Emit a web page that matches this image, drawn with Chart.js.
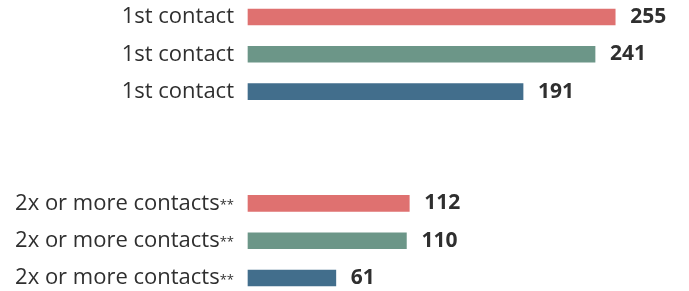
<!DOCTYPE html>
<html>
<head>
<meta charset="utf-8">
<script src="https://cdn.jsdelivr.net/npm/chart.js@4/dist/chart.umd.min.js"></script>
<style>
  html, body { margin: 0; padding: 0; background: #fff; }
  #wrap { width: 689px; height: 291px; position: relative; }
</style>
</head>
<body>
<div id="wrap"><canvas id="barchart"></canvas></div>
<script>
// Kategorien (zwei leere Zeilen als Abstand zwischen den Gruppen)
const categories = ['1st contact', '1st contact', '1st contact', '', '', '2x or more contacts', '2x or more contacts', '2x or more contacts'];
const footnotes = ['', '', '', '', '', '**', '**', '**'];
const values = [255, 241, 191, null, null, 112, 110, 61];
const barColors = ['#df7170', '#6c9688', '#426e8c', '#fff', '#fff', '#df7170', '#6c9688', '#426e8c'];

const textColor = '#2f2f2f';
const fontFamily = '"Open Sans", sans-serif';

// Beschriftungen links und Werte rechts selbst zeichnen
const labelPlugin = {
  id: 'labelPlugin',
  afterDatasetsDraw(chart) {
    const ctx = chart.ctx;
    const meta = chart.getDatasetMeta(0);
    const yScale = chart.scales.y;
    const left = chart.chartArea.left;
    ctx.save();
    ctx.fillStyle = textColor;
    ctx.textBaseline = 'middle';
    categories.forEach((cat, i) => {
      if (!cat) return;
      const y = yScale.getPixelForValue(i);
      let x = left - 14;
      ctx.textAlign = 'right';
      if (footnotes[i]) {
        ctx.font = '13px ' + fontFamily;
        ctx.fillText(footnotes[i], x, y + 2);
        x -= ctx.measureText(footnotes[i]).width;
      }
      ctx.font = '22px ' + fontFamily;
      ctx.fillText(cat, x, y);

      const bar = meta.data[i];
      if (values[i] != null && bar) {
        ctx.textAlign = 'left';
        ctx.font = 'bold 21px ' + fontFamily;
        ctx.fillText(String(values[i]), bar.x + 15, y);
      }
    });
    ctx.restore();
  }
};

new Chart(document.getElementById('barchart'), {
  type: 'bar',
  data: {
    labels: categories,
    datasets: [{
      data: values,
      backgroundColor: barColors,
      borderWidth: 0,
      barThickness: 16,
      clip: false
    }]
  },
  options: {
    indexAxis: 'y',
    responsive: true,
    maintainAspectRatio: false,
    animation: false,
    layout: { padding: { left: 248, right: 9, top: 17, bottom: 13 } },
    plugins: {
      legend: { display: false },
      tooltip: { enabled: false }
    },
    scales: {
      x: { display: false, min: 0, max: 300 },
      y: { display: false, offset: false }
    }
  },
  plugins: [labelPlugin]
});
</script>
</body>
</html>
